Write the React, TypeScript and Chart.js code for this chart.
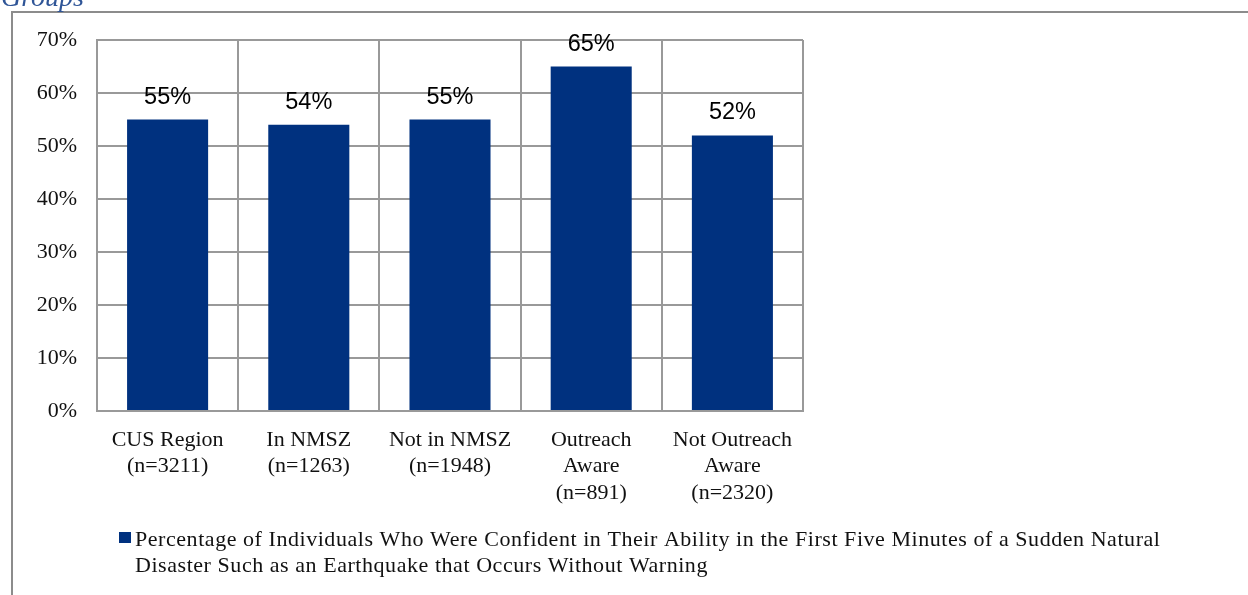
import React, { useEffect, useRef } from "react";
import { Chart, registerables } from "chart.js";

Chart.register(...registerables);

// Group labels (multi-line) and confidence percentages
const categories: string[][] = [
  ["CUS Region", "(n=3211)"],
  ["In NMSZ", "(n=1263)"],
  ["Not in NMSZ", "(n=1948)"],
  ["Outreach", "Aware", "(n=891)"],
  ["Not Outreach", "Aware", "(n=2320)"],
];
const confidentPct: number[] = [55, 54, 55, 65, 52];
const yTicks: number[] = [0, 10, 20, 30, 40, 50, 60, 70];
const seriesName =
  "Percentage of Individuals Who Were Confident in Their Ability in the First Five Minutes of a Sudden Natural Disaster Such as an Earthquake that Occurs Without Warning";
const legendLines: string[] = [
  "Percentage of Individuals Who Were Confident in Their Ability in the First Five Minutes of a Sudden Natural",
  "Disaster Such as an Earthquake that Occurs Without Warning",
];
const headingText = "Groups";

const BAR_COLOR = "#00317f";
const GRID_COLOR = "#999999";
const SERIF = "'Liberation Serif', 'Times New Roman', serif";
const SANS = "'Liberation Sans', Arial, sans-serif";

// Value labels above each bar
const valueLabels = {
  id: "valueLabels",
  afterDatasetsDraw(chart: any) {
    const { ctx } = chart;
    const meta = chart.getDatasetMeta(0);
    ctx.save();
    ctx.font = `23.5px ${SANS}`;
    ctx.fillStyle = "#000";
    ctx.textAlign = "center";
    ctx.textBaseline = "alphabetic";
    meta.data.forEach((bar: any, i: number) => {
      ctx.fillText(`${confidentPct[i]}%`, bar.x, bar.y - 16);
    });
    ctx.restore();
  },
};

// Frame, heading fragment and the wrapped legend
const decorations = {
  id: "decorations",
  afterDraw(chart: any) {
    const { ctx } = chart;
    ctx.save();
    // outer frame (top and left edges)
    ctx.strokeStyle = "#8c8c8c";
    ctx.lineWidth = 2;
    ctx.beginPath();
    ctx.moveTo(12, 595);
    ctx.lineTo(12, 12);
    ctx.lineTo(1248, 12);
    ctx.stroke();

    // heading, clipped at the top edge
    ctx.font = `italic 28px ${SERIF}`;
    ctx.fillStyle = "#2f5597";
    ctx.textAlign = "left";
    ctx.textBaseline = "alphabetic";
    ctx.fillText(headingText, 1, 6);

    // legend
    ctx.fillStyle = BAR_COLOR;
    ctx.fillRect(119, 532, 12, 11);
    ctx.font = `22px ${SERIF}`;
    ctx.fillStyle = "#111";
    (ctx as any).letterSpacing = "0.55px";
    legendLines.forEach((line, i) => {
      ctx.fillText(line, 135, 546 + i * 26);
    });
    ctx.restore();
  },
};

export default function App() {
  const canvasRef = useRef<HTMLCanvasElement | null>(null);

  useEffect(() => {
    if (!canvasRef.current) return;
    const chart = new Chart(canvasRef.current, {
      type: "bar",
      data: {
        labels: categories,
        datasets: [
          {
            label: seriesName,
            data: confidentPct,
            backgroundColor: BAR_COLOR,
            borderWidth: 0,
            categoryPercentage: 1,
            barPercentage: 0.574,
          },
        ],
      },
      options: {
        animation: false,
        responsive: false,
        devicePixelRatio: 1,
        layout: { padding: { left: 0, top: 40, right: 445, bottom: 0 } },
        plugins: {
          legend: { display: false },
          tooltip: { enabled: false },
          title: { display: false },
        },
        scales: {
          x: {
            grid: {
              color: GRID_COLOR,
              lineWidth: 2,
              drawTicks: false,
              offset: true,
            },
            border: { color: GRID_COLOR, width: 2 },
            ticks: {
              color: "#111",
              font: { family: SERIF, size: 22, lineHeight: 1.2 },
              padding: 16,
              maxRotation: 0,
              autoSkip: false,
            },
            afterFit(scale: any) {
              scale.height = 184;
            },
          },
          y: {
            min: 0,
            max: 70,
            afterBuildTicks(scale: any) {
              scale.ticks = yTicks.map((v) => ({ value: v }));
            },
            grid: { color: GRID_COLOR, lineWidth: 2, drawTicks: false },
            border: { color: GRID_COLOR, width: 2 },
            ticks: {
              color: "#111",
              font: { family: SERIF, size: 22 },
              padding: 20,
              callback: (v: any) => `${v}%`,
            },
            afterFit(scale: any) {
              scale.width = 97;
            },
          },
        },
      },
      plugins: [valueLabels, decorations],
    });
    return () => chart.destroy();
  }, []);

  return (
    <div
      style={{
        position: "fixed",
        left: 0,
        top: 0,
        width: 1248,
        height: 595,
        background: "#fff",
      }}
    >
      <canvas ref={canvasRef} width={1248} height={595} style={{ display: "block" }} />
    </div>
  );
}
